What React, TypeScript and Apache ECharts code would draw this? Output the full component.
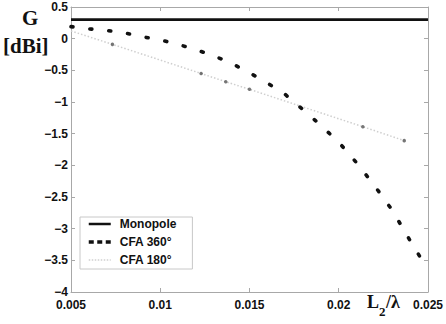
import React, { useEffect, useRef } from "react";
import * as echarts from "echarts";

// ---- data ----
const xTicks = [0.005, 0.01, 0.015, 0.02, 0.025];
const yTicks = [0.5, 0, -0.5, -1, -1.5, -2, -2.5, -3, -3.5, -4];

const monopoleX = [0.005, 0.025];
const monopoleY = [0.3, 0.3];

const cfa360X = [
  0.005, 0.006, 0.007, 0.008, 0.009, 0.01, 0.011, 0.012, 0.013, 0.014, 0.015,
  0.016, 0.017, 0.018, 0.019, 0.02, 0.021, 0.022, 0.023, 0.024, 0.025,
];
const cfa360Y = [
  0.19, 0.155, 0.13, 0.09, 0.03, -0.02, -0.09, -0.175, -0.27, -0.39, -0.54,
  -0.7, -0.88, -1.12, -1.37, -1.635, -1.96, -2.32, -2.71, -3.19, -3.65,
];

const cfa180X = [0.005, 0.00732, 0.01229, 0.01367, 0.015, 0.02135, 0.02367];
const cfa180Y = [0.122, -0.09, -0.55, -0.68, -0.8, -1.39, -1.61];

const seriesNames = ["Monopole", "CFA 360°", "CFA 180°"];

const zip = (xs: number[], ys: number[]) => xs.map((x, i) => [x, ys[i]]);

const fmtX = (v: number) => String(+v.toFixed(3));
const fmtY = (v: number) => String(+v.toFixed(2)).replace("-", "\u2212");

export default function App() {
  const ref = useRef<HTMLDivElement>(null);

  useEffect(() => {
    if (!ref.current) return;
    const chart = echarts.init(ref.current, undefined, { renderer: "svg" });
    const axisColor = "#a8a8a8";
    const labelStyle = {
      color: "#111",
      fontFamily: "Liberation Sans",
      fontWeight: "bold" as const,
      fontSize: 12,
    };
    const baseX = {
      type: "value" as const,
      min: xTicks[0],
      max: xTicks[xTicks.length - 1],
      interval: 0.005,
      splitLine: { show: false },
      axisLine: { show: true, onZero: false, lineStyle: { color: axisColor, width: 1 } },
      axisTick: { show: true, inside: true, length: 4, lineStyle: { color: axisColor } },
    };
    const baseY = {
      type: "value" as const,
      min: yTicks[yTicks.length - 1],
      max: yTicks[0],
      interval: 0.5,
      splitLine: { show: false },
      axisLine: { show: true, onZero: false, lineStyle: { color: axisColor, width: 1 } },
      axisTick: { show: true, inside: true, length: 4, lineStyle: { color: axisColor } },
    };
    const hidden = { opacity: 0, color: "transparent", borderWidth: 0 };
    chart.setOption({
      animation: false,
      backgroundColor: "#fff",
      grid: { left: 71, right: 13, top: 7, bottom: 32, containLabel: false },
      xAxis: [
        {
          ...baseX,
          position: "bottom",
          axisLabel: { ...labelStyle, margin: 7, formatter: fmtX, showMaxLabel: true },
        },
        { ...baseX, position: "top", axisLabel: { show: false } },
      ],
      yAxis: [
        {
          ...baseY,
          position: "left",
          axisLabel: { ...labelStyle, margin: 3, formatter: fmtY },
        },
        { ...baseY, position: "right", axisLabel: { show: false } },
      ],
      legend: {
        data: [
          {
            name: seriesNames[0],
            itemStyle: hidden,
            lineStyle: { color: "#111", width: 2.5, type: "solid" },
          },
          {
            name: seriesNames[1],
            itemStyle: hidden,
            lineStyle: { color: "#111", width: 3.5, type: [5, 3.5], cap: "butt" },
          },
          {
            name: seriesNames[2],
            itemStyle: hidden,
            lineStyle: { color: "#cfcfcf", width: 1.5, type: [1.5, 1.5] },
          },
        ],
        orient: "vertical",
        left: 80,
        top: 217,
        itemWidth: 22,
        itemHeight: 14,
        itemGap: 6,
        padding: [1, 16, 3, 7],
        backgroundColor: "#fff",
        borderColor: "#c8c8c8",
        borderWidth: 1,
        borderRadius: 0,
        selectedMode: false,
        textStyle: {
          color: "#111",
          fontFamily: "Liberation Sans",
          fontWeight: "bold",
          fontSize: 12,
          padding: [0, 0, 0, 4],
        },
      },
      graphic: [
        {
          type: "text",
          left: 22,
          top: 7,
          style: {
            text: "G",
            fontFamily: "Liberation Serif",
            fontWeight: "bold",
            fontSize: 21,
            fill: "#111",
          },
        },
        {
          type: "text",
          left: 3,
          top: 35,
          style: {
            text: "[dBi]",
            fontFamily: "Liberation Serif",
            fontWeight: "bold",
            fontSize: 21,
            fill: "#111",
          },
        },
        {
          type: "text",
          left: 367,
          top: 293,
          style: {
            text: "L",
            fontFamily: "Liberation Serif",
            fontWeight: "bold",
            fontSize: 18,
            fill: "#111",
          },
        },
        {
          type: "text",
          left: 379,
          top: 305,
          style: {
            text: "2",
            fontFamily: "Liberation Serif",
            fontWeight: "bold",
            fontSize: 13,
            fill: "#111",
          },
        },
        {
          type: "text",
          left: 386,
          top: 293,
          style: {
            text: "/λ",
            fontFamily: "Liberation Serif",
            fontWeight: "bold",
            fontSize: 18,
            fill: "#111",
          },
        },
      ],
      series: [
        {
          name: seriesNames[0],
          type: "line",
          data: zip(monopoleX, monopoleY),
          symbol: "none",
          lineStyle: { color: "#111", width: 2.6 },
          itemStyle: { color: "#111" },
          z: 3,
        },
        {
          name: seriesNames[1],
          type: "line",
          data: zip(cfa360X, cfa360Y),
          symbol: "none",
          lineStyle: { color: "#111", width: 3.6, type: [2, 17], cap: "round" },
          itemStyle: { color: "#111" },
          z: 4,
        },
        {
          name: seriesNames[2],
          type: "line",
          data: zip(cfa180X, cfa180Y),
          symbol: "none",
          lineStyle: { color: "#cfcfcf", width: 1.5, type: [1.5, 2] },
          itemStyle: { color: "#cfcfcf" },
          z: 2,
        },
        {
          name: "CFA 180° markers",
          type: "scatter",
          data: zip(cfa180X.slice(1), cfa180Y.slice(1)),
          symbol: "circle",
          symbolSize: 3.5,
          itemStyle: { color: "#555" },
          z: 3,
        },
      ],
    });
    return () => chart.dispose();
  }, []);

  return (
    <div
      ref={ref}
      style={{ position: "fixed", left: 0, top: 0, width: 446, height: 324 }}
    />
  );
}
